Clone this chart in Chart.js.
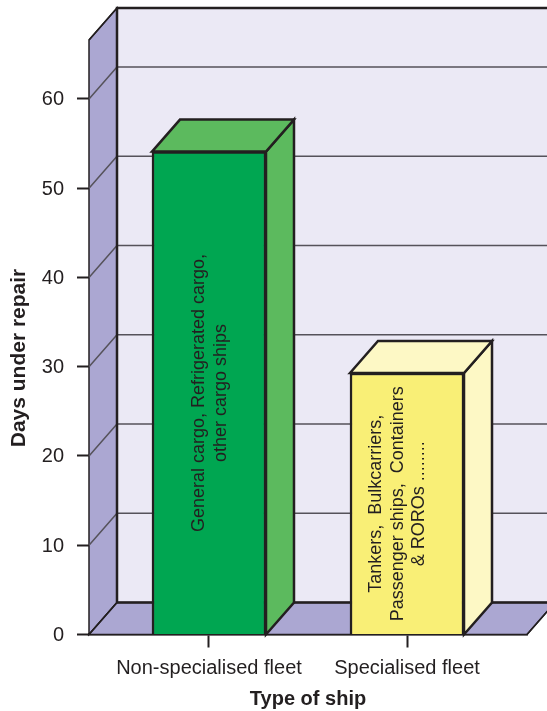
<!DOCTYPE html>
<html>
<head>
<meta charset="utf-8">
<title>Days under repair</title>
<script src="https://cdn.jsdelivr.net/npm/chart.js@4"></script>
<style>
  html, body { margin: 0; padding: 0; background: #fff; }
  canvas { display: block; }
</style>
</head>
<body>
<canvas id="repair_chart" width="547" height="711"></canvas>
<script>
const shipTypes = ['Non-specialised fleet', 'Specialised fleet'];
const daysUnderRepair = [54.1, 29.3];
const fleetNotes = [
  ['General cargo, Refrigerated cargo,', 'other cargo ships'],
  ['Tankers,  Bulkcarriers,', 'Passenger ships,  Containers', '& ROROs ........']
];
const yTitle = 'Days under repair';
const xTitle = 'Type of ship';

const ink = '#231f20';
const frontColors = ['#00a651', '#f9ef76'];
const sideColors = ['#5cba5e', '#fdf8c5'];
const wallColor = '#ebe9f5';
const floorColor = '#aba7d2';
const fontFamily = '"Liberation Sans", Arial, sans-serif';

// how far the back plane sits from the front plane
const depthX = 28;
const depthY = -32;
const noteLineHeight = 21.5;
const noteShift = [1, -9];

function polygon(ctx, points, fill) {
  ctx.beginPath();
  points.forEach((p, i) => (i ? ctx.lineTo(p[0], p[1]) : ctx.moveTo(p[0], p[1])));
  ctx.closePath();
  if (fill) {
    ctx.fillStyle = fill;
    ctx.fill();
  }
  ctx.stroke();
}

const box3d = {
  id: 'box3d',
  // walls and floor behind the bars
  beforeDatasetsDraw(chart) {
    const { ctx, chartArea: area, scales: { y } } = chart;
    const zero = y.getPixelForValue(0);
    const left = area.left;
    const right = area.right;
    const top = area.top;

    ctx.save();
    ctx.strokeStyle = ink;
    ctx.lineJoin = 'miter';

    ctx.fillStyle = wallColor;
    ctx.fillRect(left + depthX, top + depthY, right - left, zero - top);

    ctx.lineWidth = 1.5;
    polygon(ctx, [
      [left, top],
      [left + depthX, top + depthY],
      [left + depthX, zero + depthY],
      [left, zero]
    ], floorColor);

    polygon(ctx, [
      [left, zero],
      [left + depthX, zero + depthY],
      [right + depthX, zero + depthY],
      [right, zero]
    ], floorColor);

    ctx.strokeStyle = '#55525a';
    ctx.lineWidth = 1.5;
    y.ticks.forEach((tick) => {
      if (tick.value === 0) return;
      const py = y.getPixelForValue(tick.value);
      ctx.beginPath();
      ctx.moveTo(left, py);
      ctx.lineTo(left + depthX, py + depthY);
      ctx.lineTo(right + depthX, py + depthY);
      ctx.stroke();
    });

    ctx.strokeStyle = ink;
    ctx.lineWidth = 2.5;
    ctx.beginPath();
    ctx.moveTo(left + depthX, zero + depthY);
    ctx.lineTo(left + depthX, top + depthY);
    ctx.lineTo(right + depthX, top + depthY);
    ctx.stroke();
    ctx.beginPath();
    ctx.moveTo(left + depthX, zero + depthY);
    ctx.lineTo(right + depthX, zero + depthY);
    ctx.stroke();

    ctx.lineWidth = 1.5;
    ctx.beginPath();
    ctx.moveTo(left, top);
    ctx.lineTo(left + depthX, top + depthY);
    ctx.moveTo(left, zero);
    ctx.lineTo(left + depthX, zero + depthY);
    ctx.moveTo(right, zero);
    ctx.lineTo(right + depthX, zero + depthY);
    ctx.stroke();
    ctx.restore();
  },
  // side and top faces of each bar, then the rotated notes on the front
  afterDatasetsDraw(chart) {
    const { ctx, scales: { y } } = chart;
    const zero = y.getPixelForValue(0);
    const bars = chart.getDatasetMeta(0).data;

    ctx.save();
    ctx.strokeStyle = ink;
    ctx.lineWidth = 2.5;
    ctx.lineJoin = 'miter';
    bars.forEach((bar, i) => {
      const half = bar.width / 2;
      const x0 = bar.x - half;
      const x1 = bar.x + half;
      polygon(ctx, [
        [x1, bar.y],
        [x1 + depthX, bar.y + depthY],
        [x1 + depthX, zero + depthY],
        [x1, zero]
      ], sideColors[i]);
      polygon(ctx, [
        [x0, bar.y],
        [x0 + depthX, bar.y + depthY],
        [x1 + depthX, bar.y + depthY],
        [x1, bar.y]
      ], sideColors[i]);

      const lines = fleetNotes[i];
      ctx.save();
      ctx.translate(bar.x + noteShift[i], (bar.y + zero) / 2);
      ctx.rotate(-Math.PI / 2);
      ctx.fillStyle = ink;
      ctx.font = '18px ' + fontFamily;
      ctx.textAlign = 'center';
      ctx.textBaseline = 'middle';
      lines.forEach((line, n) => {
        ctx.fillText(line, 0, (n - (lines.length - 1) / 2) * noteLineHeight);
      });
      ctx.restore();
    });

    ctx.save();
    ctx.translate(19, 358);
    ctx.rotate(-Math.PI / 2);
    ctx.fillStyle = ink;
    ctx.font = 'bold 21px ' + fontFamily;
    ctx.textAlign = 'center';
    ctx.textBaseline = 'middle';
    ctx.fillText(yTitle, 0, 0);
    ctx.restore();
    ctx.restore();
  }
};

new Chart(document.getElementById('repair_chart'), {
  type: 'bar',
  data: {
    datasets: [{
      data: daysUnderRepair.map((value, i) => ({ x: i, y: value })),
      backgroundColor: frontColors,
      borderColor: ink,
      borderWidth: 2.5,
      barThickness: 114
    }]
  },
  options: {
    responsive: false,
    animation: false,
    layout: { padding: { top: 40, right: 20, left: 0, bottom: 0 } },
    plugins: { legend: { display: false }, tooltip: { enabled: false } },
    scales: {
      x: {
        type: 'linear',
        offset: false,
        min: -0.606,
        max: 1.606,
        z: 1,
        afterBuildTicks(scale) {
          scale.ticks = shipTypes.map((name, i) => ({ value: i }));
        },
        afterFit(scale) {
          scale.height = 76.5;
        },
        grid: { offset: false, drawOnChartArea: false, tickLength: 13, tickColor: ink, tickWidth: 2 },
        border: { color: ink, width: 2.5 },
        ticks: {
          autoSkip: false,
          maxRotation: 0,
          padding: 9,
          color: ink,
          font: { family: fontFamily, size: 20 },
          callback: (value) => shipTypes[value]
        },
        title: {
          display: true,
          text: xTitle,
          color: ink,
          font: { family: fontFamily, size: 20, weight: 'bold' },
          padding: { top: 0, bottom: 0 }
        }
      },
      y: {
        min: 0,
        max: 66.6,
        z: 1,
        afterFit(scale) {
          scale.width = 89;
        },
        grid: { drawOnChartArea: false, tickLength: 12, tickColor: ink, tickWidth: 2 },
        border: { display: false },
        ticks: {
          stepSize: 10,
          includeBounds: false,
          padding: 13,
          labelOffset: 1,
          color: ink,
          font: { family: fontFamily, size: 20 }
        }
      }
    }
  },
  plugins: [box3d]
});
</script>
</body>
</html>
